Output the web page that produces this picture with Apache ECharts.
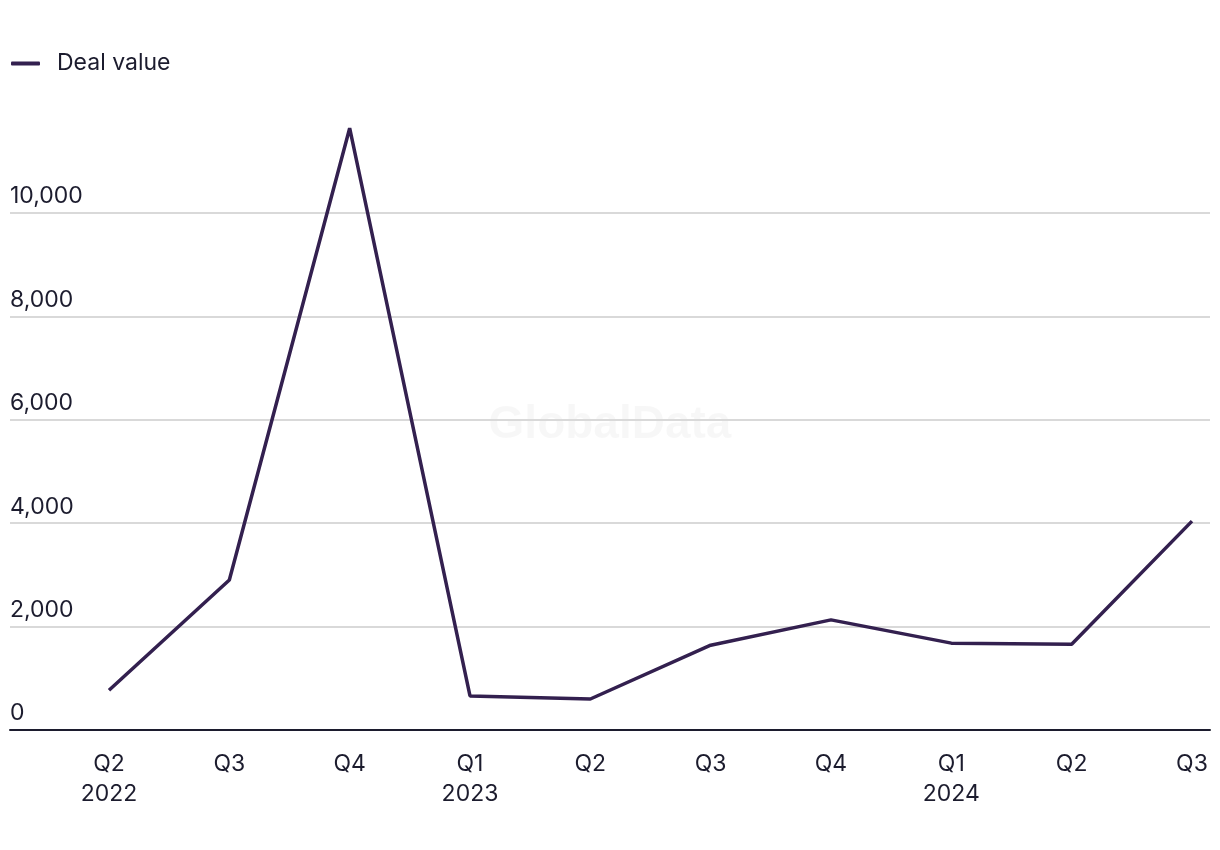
<!DOCTYPE html>
<html><head><meta charset="utf-8">
<script src="https://cdn.jsdelivr.net/npm/echarts@6/dist/echarts.min.js"></script>
<style>html,body{margin:0;padding:0;background:#fff}#c{width:1220px;height:850px}</style>
</head><body><div id="c"></div>
<script>
const categories = ['Q2\n2022','Q3','Q4','Q1\n2023','Q2','Q3','Q4','Q1\n2024','Q2','Q3'];
const dealValue = [770, 2900, 11640, 660, 600, 1640, 2130, 1680, 1660, 4040];
const yTicks = [0, 2000, 4000, 6000, 8000, 10000];
const seriesName = 'Deal value';

const FONT = 'Inter, "Noto Sans", sans-serif';
const TXT = '#1c1c2e';
const LINE = '#33204f';
const AXIS_Y = 730;
const PX_PER_UNIT = (730 - 213) / 10000;
const BOTTOM = 850 - AXIS_Y;
const LINE_TOP = 110;
const lineMax = (AXIS_Y - LINE_TOP) / PX_PER_UNIT;

const chart = echarts.init(document.getElementById('c'));
chart.setOption({
  animation: false,
  backgroundColor: '#fff',
  graphic: [{
    type: 'text', left: 'center', top: 402, z: 0,
    style: { text: 'GlobalData', font: 'bold 46px "Liberation Sans", Arial, sans-serif', fill: 'rgba(0,0,0,0.03)' }
  }],
  legend: {
    left: 6, top: 47, itemWidth: 29, itemHeight: 4, itemGap: 20,
    icon: 'roundRect',
    textStyle: { fontFamily: FONT, fontSize: 23, color: TXT, padding: [0,0,0,12] },
    data: [seriesName]
  },
  grid: [
    { left: 10, right: 10, top: 213, bottom: BOTTOM, containLabel: false },
    { left: 109, right: 1220 - 1192, top: LINE_TOP, bottom: BOTTOM, containLabel: false }
  ],
  xAxis: [
    { gridIndex: 0, type: 'value', min: 0, max: 1, show: true,
      axisLine: { show: true, lineStyle: { color: TXT, width: 2 } },
      axisTick: { show: false }, axisLabel: { show: false }, splitLine: { show: false } },
    { gridIndex: 1, type: 'category', data: categories, boundaryGap: false,
      axisLine: { show: false }, axisTick: { show: false }, splitLine: { show: false },
      axisLabel: { interval: 0, margin: 19, fontFamily: FONT, fontSize: 23, color: TXT, lineHeight: 30 } }
  ],
  yAxis: [
    { gridIndex: 0, type: 'value', min: 0, max: 10000, interval: 2000,
      axisLine: { show: false }, axisTick: { show: false },
      splitLine: { show: true, lineStyle: { color: '#d9d9d9', width: 2 } },
      axisLabel: {
        inside: true, margin: 0, verticalAlign: 'bottom', padding: [0,0,5,0],
        fontFamily: FONT, fontSize: 23, color: TXT,
        formatter: v => yTicks.includes(v) ? v.toLocaleString('en-US') : ''
      } },
    { gridIndex: 1, type: 'value', min: 0, max: lineMax, show: false }
  ],
  series: [{
    name: seriesName, type: 'line', xAxisIndex: 1, yAxisIndex: 1,
    data: dealValue, symbol: 'none', z: 5,
    lineStyle: { color: LINE, width: 3.5 }, itemStyle: { color: LINE }
  }]
});
</script></body></html>
